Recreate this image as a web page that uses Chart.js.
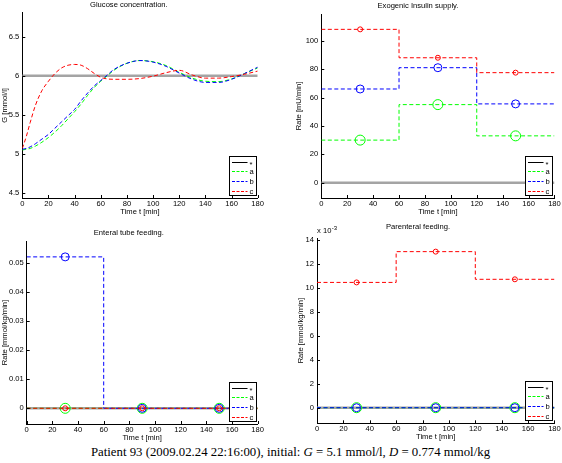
<!DOCTYPE html>
<html lang="en">
<head>
<meta charset="UTF-8">
<title>Patient 93</title>
<script src="https://cdn.jsdelivr.net/npm/chart.js@4.4.1/dist/chart.umd.min.js"></script>
<style>
  body { margin: 0; width: 562px; height: 463px; background: #fff; position: relative; overflow: hidden; }
  canvas { position: absolute; }
  #caption { position: absolute; left: 0; width: 581px; top: 446px; line-height: 12px; text-align: center;
             font-family: "Liberation Serif", serif; font-size: 12.8px; white-space: nowrap; }
</style>
</head>
<body>
<canvas id="glucose"></canvas>
<canvas id="insulin"></canvas>
<canvas id="enteral"></canvas>
<canvas id="parenteral"></canvas>
<div id="caption">Patient 93 (2009.02.24 22:16:00), initial: <i>G</i> = 5.1 mmol/l, <i>D</i> = 0.774 mmol/kg</div>
<script>
// glucose curves
const glucoseTime = [0, 3, 6, 10, 15, 20, 25, 30, 35, 40, 45, 50, 55, 60, 65, 70, 80, 90, 100, 110, 120, 130, 140, 150, 160, 170, 180];
const glucoseTarget = 6;
const glucoseA = [5.05, 5.06, 5.07, 5.10, 5.15, 5.21, 5.28, 5.36, 5.45, 5.54, 5.64, 5.75, 5.85, 5.93, 6.00, 6.07, 6.16, 6.195, 6.18, 6.13, 6.045, 5.97, 5.93, 5.925, 5.96, 6.03, 6.10];
const glucoseB = [5.06, 5.07, 5.09, 5.13, 5.19, 5.25, 5.33, 5.41, 5.49, 5.57, 5.68, 5.78, 5.87, 5.94, 6.01, 6.08, 6.16, 6.195, 6.175, 6.12, 6.035, 5.955, 5.915, 5.915, 5.955, 6.03, 6.11];
const glucoseC = [5.07, 5.22, 5.40, 5.62, 5.81, 5.93, 6.03, 6.10, 6.135, 6.145, 6.135, 6.09, 6.03, 5.98, 5.96, 5.955, 5.955, 5.965, 5.995, 6.04, 6.07, 6.01, 5.97, 5.97, 5.99, 6.02, 6.06];

// piecewise constant inputs: one value per hour, marker in the middle
const stepEdges = [0, 60, 120, 180];
const markerTimes = [30, 90, 150];
const insulinA = [30, 55, 33];
const insulinB = [66, 81, 55.5];
const insulinC = [108, 88, 77.5];
const enteralA = [0, 0, 0];
const enteralB = [0.052, 0, 0];
const enteralC = [0, 0, 0];
const parenteralA = [0, 0, 0];
const parenteralB = [0, 0, 0];
const parenteralC = [0.01046, 0.01303, 0.01072];

const timeTicks = [0, 20, 40, 60, 80, 100, 120, 140, 160, 180];
const glucoseTicks = [4.5, 5, 5.5, 6, 6.5];
const insulinTicks = [0, 20, 40, 60, 80, 100];
const enteralTicks = [0, 0.01, 0.02, 0.03, 0.04, 0.05];
const parenteralTicks = [0, 0.002, 0.004, 0.006, 0.008, 0.01, 0.012, 0.014];
const legendNames = ['*', 'a', 'b', 'c'];

const GREEN = '#00ff00', BLUE = '#0000ff', RED = '#ff0000', GREY = '#a4a4a4';
const FONT = { family: '"Liberation Sans", Arial, sans-serif', size: 7.6, weight: 'normal' };
const DASH = [4, 2.5];

function stepData(vals) {
    const pts = stepEdges.slice(0, -1).map((t, i) => ({ x: t, y: vals[i] }));
    pts.push({ x: stepEdges[stepEdges.length - 1], y: vals[vals.length - 1] });
    return pts;
}
function markerData(vals) {
    return markerTimes.map((t, i) => ({ x: t, y: vals[i] }));
}
function targetLine(v) {
    return { data: [{ x: 0, y: v }, { x: 180, y: v }], borderColor: GREY, borderWidth: 2.4, pointRadius: 0 };
}
function dashLine(data, color, extra) {
    return Object.assign({ data: data, borderColor: color, borderWidth: 1, borderDash: DASH, pointRadius: 0 }, extra);
}
function markers(vals, color, r) {
    return { data: markerData(vals), showLine: false, pointRadius: r, pointBorderWidth: 1,
             pointBorderColor: color, pointBackgroundColor: 'rgba(0,0,0,0)' };
}
// datasets are listed bottom to top
function stack(list) {
    list.forEach((d, i) => { d.order = list.length - i; });
    return list;
}
function stepSeries(a, b, c, star) {
    return stack([
        targetLine(star),
        dashLine(stepData(a), GREEN, { stepped: true }), markers(a, GREEN, 5),
        dashLine(stepData(b), BLUE, { stepped: true }), markers(b, BLUE, 4),
        dashLine(stepData(c), RED, { stepped: true }), markers(c, RED, 2.5)
    ]);
}

const inwardTicks = {
    id: 'inwardTicks',
    afterDraw(chart) {
        const { ctx, chartArea: a, scales: { x, y } } = chart;
        ctx.save();
        ctx.strokeStyle = '#000';
        ctx.lineWidth = 1;
        ctx.beginPath();
        x.ticks.forEach(t => {
            const px = Math.round(x.getPixelForValue(t.value)) + 0.5;
            ctx.moveTo(px, a.bottom);
            ctx.lineTo(px, a.bottom - 3);
        });
        y.ticks.forEach(t => {
            const py = Math.round(y.getPixelForValue(t.value)) + 0.5;
            ctx.moveTo(a.left, py);
            ctx.lineTo(a.left + 3, py);
        });
        ctx.stroke();
        ctx.restore();
    }
};

const boxLegend = {
    id: 'boxLegend',
    afterDraw(chart) {
        const { ctx, chartArea: a } = chart;
        const w = 27, h = 39;
        const x0 = Math.round(a.right - 2 - w) + 0.5, y0 = Math.round(a.bottom - 3 - h) + 0.5;
        const colors = ['#000', GREEN, BLUE, RED];
        ctx.save();
        ctx.fillStyle = '#fff';
        ctx.fillRect(x0, y0, w, h);
        ctx.strokeStyle = '#000';
        ctx.lineWidth = 1;
        ctx.strokeRect(x0, y0, w, h);
        ctx.font = FONT.size + 'px ' + FONT.family;
        ctx.textBaseline = 'middle';
        legendNames.forEach((name, i) => {
            const yy = Math.round(y0 + 5 + i * 9.8) + 0.5;
            ctx.beginPath();
            ctx.setLineDash(i === 0 ? [] : [3, 1.5]);
            ctx.strokeStyle = colors[i];
            ctx.moveTo(x0 + 2.5, yy);
            ctx.lineTo(x0 + 18, yy);
            ctx.stroke();
            ctx.setLineDash([]);
            ctx.fillStyle = '#000';
            ctx.fillText(name, x0 + 20, yy + (i === 0 ? 2 : 0));
        });
        ctx.restore();
    }
};

const exponentLabel = {
    id: 'exponentLabel',
    afterDraw(chart, args, opts) {
        if (!opts.text) return;
        const { ctx, chartArea: a } = chart;
        ctx.save();
        ctx.fillStyle = '#000';
        ctx.textBaseline = 'middle';
        ctx.font = FONT.size + 'px ' + FONT.family;
        ctx.fillText('x 10', a.left, a.top - 7);
        const w = ctx.measureText('x 10').width;
        ctx.font = '6px ' + FONT.family;
        ctx.fillText(opts.text, a.left + w + 0.5, a.top - 10);
        ctx.restore();
    }
};

function makeChart(id, box, cfg) {
    const cv = document.getElementById(id);
    cv.width = box.w;
    cv.height = box.h;
    cv.style.left = box.x + 'px';
    cv.style.top = box.y + 'px';
    return new Chart(cv, {
        type: 'line',
        data: { datasets: cfg.datasets },
        options: {
            responsive: false,
            animation: false,
            layout: { padding: { left: 0, right: box.padRight, top: 0, bottom: 0 } },
            plugins: {
                legend: { display: false },
                tooltip: { enabled: false },
                title: { display: true, text: cfg.title, color: '#000', font: FONT,
                         padding: { top: box.titleTop, bottom: box.titleBottom } },
                exponentLabel: { text: cfg.exponent || '' }
            },
            scales: {
                x: {
                    type: 'linear', min: 0, max: 180,
                    afterBuildTicks: s => { s.ticks = timeTicks.map(v => ({ value: v })); },
                    afterFit: s => { s.height = box.xAxisH; },
                    ticks: { color: '#000', font: FONT, padding: 1.2, maxRotation: 0, autoSkip: false },
                    grid: { display: false, drawTicks: false },
                    border: { display: true, color: '#000', width: 1 },
                    title: { display: true, text: 'Time t [min]', color: '#000', font: FONT,
                             padding: { top: 0, bottom: box.xTitlePad } }
                },
                y: {
                    type: 'linear', min: cfg.yMin, max: cfg.yMax,
                    afterBuildTicks: s => { s.ticks = cfg.yTicks.map(v => ({ value: v })); },
                    afterFit: s => { s.width = box.yAxisW; },
                    ticks: { color: '#000', font: FONT, padding: 3, autoSkip: false, callback: cfg.yFormat },
                    grid: { display: false, drawTicks: false },
                    border: { display: true, color: '#000', width: 1 },
                    title: { display: true, text: cfg.yTitle, color: '#000', font: FONT,
                             padding: { top: box.yTitlePad, bottom: 0 } }
                }
            }
        },
        plugins: [inwardTicks, boxLegend, exponentLabel]
    });
}

const plain = v => String(parseFloat(v.toFixed(4)));

makeChart('glucose',
    { x: 0, y: 0, w: 281, h: 221, yAxisW: 22.3, padRight: 23.3, xAxisH: 23,
      titleTop: 0, titleBottom: 3.6, xTitlePad: 4.7, yTitlePad: 0 },
    {
        title: 'Glucose concentration.', yTitle: 'G [mmol/l]',
        yMin: 4.436, yMax: 6.807, yTicks: glucoseTicks, yFormat: plain,
        datasets: stack([
            targetLine(glucoseTarget),
            dashLine(glucoseTime.map((t, i) => ({ x: t, y: glucoseA[i] })), GREEN, { cubicInterpolationMode: 'monotone' }),
            dashLine(glucoseTime.map((t, i) => ({ x: t, y: glucoseB[i] })), BLUE, { cubicInterpolationMode: 'monotone' }),
            dashLine(glucoseTime.map((t, i) => ({ x: t, y: glucoseC[i] })), RED, { cubicInterpolationMode: 'monotone' })
        ])
    });

makeChart('insulin',
    { x: 281, y: 0, w: 281, h: 221, yAxisW: 40.3, padRight: 7, xAxisH: 23,
      titleTop: 0.9, titleBottom: 4, xTitlePad: 4.7, yTitlePad: 13.7 },
    {
        title: 'Exogenic Insulin supply.', yTitle: 'Rate [mU/min]',
        yMin: -10.77, yMax: 118.8, yTicks: insulinTicks, yFormat: plain,
        datasets: stepSeries(insulinA, insulinB, insulinC, 0)
    });

makeChart('enteral',
    { x: 0, y: 221, w: 281, h: 224, yAxisW: 26.7, padRight: 23.3, xAxisH: 21,
      titleTop: 7.4, titleBottom: 3.5, xTitlePad: 2.7, yTitlePad: 0 },
    {
        title: 'Enteral tube feeding.', yTitle: 'Rate [mmol/kg/min]',
        yMin: -0.00539, yMax: 0.05745, yTicks: enteralTicks, yFormat: plain,
        datasets: stepSeries(enteralA, enteralB, enteralC, 0)
    });

makeChart('parenteral',
    { x: 281, y: 221, w: 281, h: 224, yAxisW: 36, padRight: 7, xAxisH: 21.7,
      titleTop: 1.1, titleBottom: 6.8, xTitlePad: 3.4, yTitlePad: 15.4 },
    {
        title: 'Parenteral feeding.', yTitle: 'Rate [mmol/kg/min]', exponent: '-3',
        yMin: -0.001302, yMax: 0.014167, yTicks: parenteralTicks,
        yFormat: v => String(Math.round(v * 1000)),
        datasets: stepSeries(parenteralA, parenteralB, parenteralC, 0)
    });
</script>
</body>
</html>
